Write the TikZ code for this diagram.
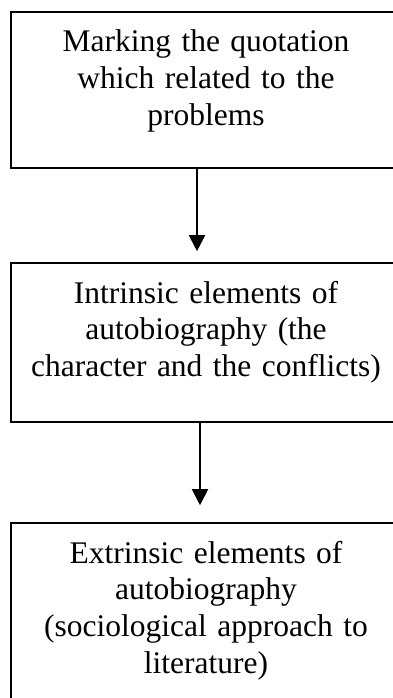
\documentclass[tikz,border=0pt]{standalone}
\usepackage{fontspec}
\setmainfont{Liberation Serif}
\usetikzlibrary{arrows.meta,positioning}

\begin{document}
\begin{tikzpicture}[x=1pt,y=-1pt,
  stagebox/.style={draw, line width=1.6pt, text width=370pt, inner xsep=10pt, inner ysep=0pt, align=center, anchor=base, text height=40pt, text depth=116pt, font=\fontsize{31.5}{36.8}\selectfont},
  flow/.style={line width=2pt, -{Triangle[width=16pt,length=16pt]}}]
\useasboundingbox (0,0) rectangle (393,698);
\clip (0,0) rectangle (393,698);
\node[stagebox] (marking) at (206,52) {Marking the quotation\\which related to the\\problems};
\node[stagebox, text depth=119pt] (intrinsic) at (206,303) {Intrinsic elements of\\autobiography (the\\character and the conflicts)};
\node[stagebox, text depth=160pt] (extrinsic) at (206,563) {Extrinsic elements of\\autobiography\\(sociological approach to\\literature)};
\draw[flow] ([xshift=-9pt]marking.south) -- ([xshift=-9pt,yshift=11pt]intrinsic.north);
\draw[flow] ([xshift=-6pt]intrinsic.south) -- ([xshift=-6pt,yshift=17pt]extrinsic.north);
\end{tikzpicture}
\end{document}
